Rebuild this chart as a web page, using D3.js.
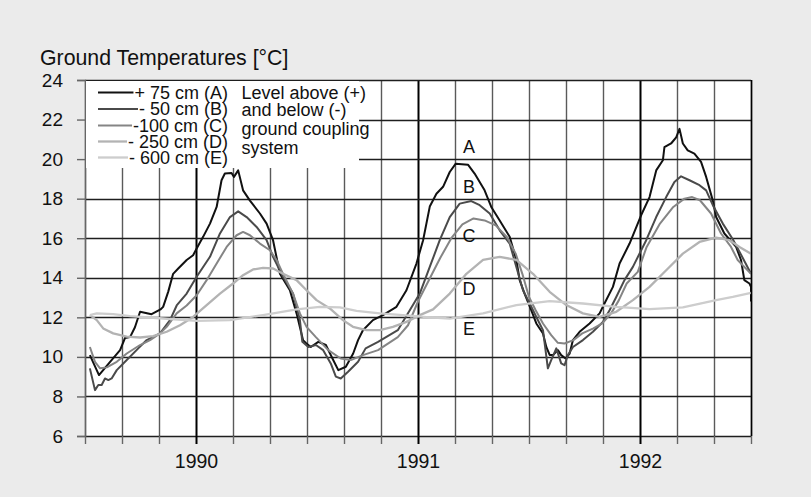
<!DOCTYPE html>
<html><head><meta charset="utf-8">
<script src="https://cdn.jsdelivr.net/npm/d3@7"></script>
<style>
html,body{margin:0;padding:0;background:#ebebeb;}
svg{display:block;font-family:"Liberation Sans",Arial,sans-serif;}
</style></head>
<body>
<script>
// ---------- data ----------
const yTicks = [6, 8, 10, 12, 14, 16, 18, 20, 22, 24];
const xTicks = [1989.5, 1989.6667, 1989.8333, 1990, 1990.1667, 1990.3333, 1990.5, 1990.6667, 1990.8333,
                1991, 1991.1667, 1991.3333, 1991.5, 1991.6667, 1991.8333, 1992, 1992.1667, 1992.3333, 1992.5];
const yearLabels = [1990, 1991, 1992];
const seriesNames = ["+ 75 cm (A)", "- 50 cm (B)", "-100 cm (C)", "- 250 cm (D)", "- 600 cm (E)"];
const seriesLetters = ["A", "B", "C", "D", "E"];
const letterYear = 1991.23;
const letterTemps = [20.63, 18.6, 16.16, 13.47, 11.45];
const noteLines = ["Level above (+)", "and below (-)", "ground coupling", "system"];

// +75 cm (A): [decimal year, °C]
const depthA = [
 [1989.522,10.09],[1989.563,9.08],[1989.613,9.75],[1989.658,10.34],[1989.680,10.95],[1989.703,11.0],
 [1989.725,11.5],[1989.748,12.28],[1989.800,12.16],[1989.840,12.4],[1989.852,12.53],[1989.875,13.3],
 [1989.897,14.2],[1989.920,14.47],[1989.958,14.9],[1989.987,15.14],[1990.003,15.48],[1990.032,16.07],
 [1990.063,16.74],[1990.093,17.58],[1990.115,18.93],[1990.130,19.27],[1990.160,19.3],[1990.171,19.1],
 [1990.190,19.43],[1990.212,18.42],[1990.243,17.9],[1990.288,17.25],[1990.318,16.74],[1990.347,15.9],
 [1990.378,14.2],[1990.423,13.37],[1990.453,12.2],[1990.482,10.85],[1990.495,10.7],[1990.517,10.5],
 [1990.551,10.76],[1990.585,10.6],[1990.618,9.84],[1990.641,9.33],[1990.675,9.5],[1990.708,10.17],
 [1990.730,10.85],[1990.752,11.35],[1990.797,11.86],[1990.842,12.11],[1990.903,12.53],[1990.948,13.37],
 [1990.993,14.72],[1991.023,15.9],[1991.053,17.6],[1991.083,18.25],[1991.113,18.6],[1991.143,19.35],
 [1991.170,19.77],[1991.225,19.72],[1991.255,19.27],[1991.300,18.42],[1991.330,17.58],[1991.368,16.9],
 [1991.413,16.07],[1991.443,14.9],[1991.458,13.88],[1991.480,13.2],[1991.510,12.36],[1991.533,11.69],
 [1991.563,11.18],[1991.578,10.5],[1991.593,10.1],[1991.608,10.09],[1991.630,10.34],[1991.645,10.09],
 [1991.665,9.92],[1991.683,10.17],[1991.698,10.85],[1991.728,11.27],[1991.773,11.69],[1991.818,12.2],
 [1991.840,12.7],[1991.878,13.54],[1991.908,14.72],[1991.953,15.73],[1992.005,17.16],[1992.043,18.08],
 [1992.073,19.43],[1992.103,19.94],[1992.110,20.6],[1992.140,20.79],[1992.163,21.1],[1992.178,21.53],
 [1992.193,20.79],[1992.215,20.44],[1992.245,20.28],[1992.275,19.86],[1992.298,19.1],[1992.328,17.9],
 [1992.343,17.07],[1992.380,16.24],[1992.433,15.56],[1992.455,14.9],[1992.470,13.88],[1992.493,13.71],
 [1992.5,13.54],[1992.5,12.8]
];
// -50 cm (B)
const depthB = [
 [1989.522,9.42],[1989.545,8.32],[1989.560,8.58],[1989.575,8.58],[1989.590,8.91],[1989.605,8.83],
 [1989.620,8.91],[1989.643,9.33],[1989.688,9.84],[1989.740,10.43],[1989.778,10.85],[1989.838,11.19],
 [1989.883,11.86],[1989.913,12.6],[1989.958,13.2],[1990.003,14.05],[1990.063,15.06],[1990.108,16.24],
 [1990.153,17.07],[1990.190,17.36],[1990.228,17.07],[1990.273,16.57],[1990.318,15.9],[1990.347,15.06],
 [1990.392,14.05],[1990.437,13.2],[1990.468,11.86],[1990.479,10.76],[1990.506,10.5],[1990.540,10.6],
 [1990.573,10.34],[1990.607,9.67],[1990.630,9.0],[1990.652,8.91],[1990.685,9.25],[1990.730,9.75],
 [1990.764,10.43],[1990.820,10.76],[1990.909,11.35],[1990.963,12.36],[1991.008,13.2],[1991.053,14.55],
 [1991.098,15.9],[1991.143,17.07],[1991.188,17.75],[1991.240,17.88],[1991.278,17.67],[1991.323,17.25],
 [1991.368,16.4],[1991.413,15.73],[1991.443,14.55],[1991.473,13.37],[1991.503,12.7],[1991.533,12.02],
 [1991.563,11.35],[1991.585,9.42],[1991.600,9.84],[1991.623,10.43],[1991.645,9.67],[1991.660,9.58],
 [1991.675,10.09],[1991.698,10.5],[1991.743,10.85],[1991.788,11.27],[1991.833,11.77],[1991.863,12.36],
 [1991.893,13.03],[1991.930,13.88],[1991.968,14.55],[1992.028,15.9],[1992.073,17.07],[1992.118,18.08],
 [1992.155,18.84],[1992.185,19.13],[1992.223,18.93],[1992.268,18.68],[1992.298,18.42],[1992.328,17.67],
 [1992.373,16.74],[1992.418,15.95],[1992.463,15.0],[1992.5,14.2]
];
// -100 cm (C)
const depthC = [
 [1989.522,10.5],[1989.545,9.75],[1989.568,9.42],[1989.598,9.47],[1989.643,9.75],[1989.688,10.17],
 [1989.748,10.6],[1989.793,10.85],[1989.838,11.19],[1989.868,11.52],[1989.913,12.2],[1989.958,12.6],
 [1990.003,13.12],[1990.048,13.88],[1990.093,14.72],[1990.138,15.56],[1990.183,16.15],[1990.212,16.32],
 [1990.243,16.15],[1990.288,15.73],[1990.333,15.39],[1990.363,14.9],[1990.392,14.2],[1990.437,13.2],
 [1990.468,12.2],[1990.498,11.52],[1990.540,11.0],[1990.596,10.34],[1990.652,9.92],[1990.697,9.84],
 [1990.752,10.09],[1990.820,10.34],[1990.909,11.0],[1990.955,11.6],[1991.0,12.8],[1991.05,13.9],
 [1991.1,15.0],[1991.15,16.0],[1991.2,16.7],[1991.25,17.0],[1991.3,16.9],[1991.35,16.65],
 [1991.4,16.07],[1991.44,15.22],[1991.47,14.2],[1991.5,13.03],[1991.53,12.36],[1991.563,11.69],
 [1991.6,11.1],[1991.63,10.71],[1991.66,10.68],[1991.7,10.85],[1991.74,11.19],[1991.79,11.44],
 [1991.83,11.69],[1991.87,12.2],[1991.905,12.87],[1991.94,13.71],[1991.99,14.3],[1992.03,15.56],
 [1992.09,16.74],[1992.15,17.58],[1992.2,18.0],[1992.235,18.08],[1992.27,17.92],[1992.32,17.25],
 [1992.365,16.24],[1992.41,15.56],[1992.44,14.9],[1992.5,14.2]
];
// -250 cm (D)
const depthD = [
 [1989.522,12.11],[1989.553,11.86],[1989.582,11.44],[1989.627,11.19],[1989.688,11.02],[1989.748,10.98],
 [1989.807,11.05],[1989.868,11.27],[1989.928,11.6],[1989.987,12.02],[1990.048,12.62],[1990.108,13.2],
 [1990.167,13.71],[1990.212,14.13],[1990.257,14.42],[1990.302,14.5],[1990.347,14.47],[1990.392,14.2],
 [1990.453,13.88],[1990.498,13.37],[1990.543,12.87],[1990.603,12.45],[1990.662,11.86],[1990.707,11.52],
 [1990.768,11.35],[1990.828,11.35],[1990.887,11.52],[1990.948,11.77],[1991.008,12.11],[1991.068,12.4],
 [1991.143,13.2],[1991.218,14.2],[1991.293,14.9],[1991.368,15.06],[1991.443,14.9],[1991.518,14.2],
 [1991.593,13.29],[1991.668,12.62],[1991.743,12.2],[1991.818,12.02],[1991.893,12.28],[1991.968,12.87],
 [1992.043,13.54],[1992.118,14.38],[1992.193,15.22],[1992.268,15.81],[1992.343,16.03],[1992.403,15.9],
 [1992.448,15.56],[1992.5,15.22]
];
// -600 cm (E)
const depthE = [
 [1989.522,12.11],[1989.553,12.2],[1989.627,12.16],[1989.703,12.06],[1989.852,11.94],[1990.003,11.82],
 [1990.153,11.86],[1990.302,12.11],[1990.453,12.4],[1990.558,12.53],[1990.648,12.5],[1990.723,12.33],
 [1990.828,12.2],[1990.932,12.11],[1991.053,12.0],[1991.143,11.94],[1991.293,12.2],[1991.443,12.62],
 [1991.593,12.82],[1991.743,12.7],[1991.893,12.53],[1992.043,12.41],[1992.193,12.5],[1992.343,12.87],
 [1992.418,13.03],[1992.5,13.24]
];

// ---------- drawing ----------
const W = 811, H = 497;
const allSeries = [depthA, depthB, depthC, depthD, depthE];
const colors = ["#111111", "#4a4a4a", "#858585", "#b3b3b3", "#cdcdcd"];
const widths = [2, 2, 2, 2.3, 2.3];

const svg = d3.select("body").append("svg").attr("width", W).attr("height", H);
svg.append("rect").attr("width", W).attr("height", H).attr("fill", "#ebebeb");

const x = d3.scaleLinear().domain([1989.5, 1992.5]).range([85, 751]);
const y = d3.scaleLinear().domain([6, 24]).range([436, 80]);

// plot background
svg.append("rect").attr("x", x.range()[0]).attr("y", y(24))
  .attr("width", x.range()[1] - x.range()[0]).attr("height", y(6) - y(24)).attr("fill", "#fff");

const isYear = d => Math.abs(d - Math.round(d)) < 1e-3 && d > 1989.6 && d < 1992.4;

// vertical grid
svg.append("g").selectAll("line").data(xTicks).join("line")
  .attr("x1", d => Math.round(x(d)) + 0.5).attr("x2", d => Math.round(x(d)) + 0.5)
  .attr("y1", y(24)).attr("y2", y(6))
  .attr("stroke", d => isYear(d) ? "#000" : (d > 1992.4 ? "#000" : "#5a5a5a"))
  .attr("stroke-width", d => isYear(d) ? 2 : 1.4);

// horizontal grid
svg.append("g").selectAll("line").data(yTicks).join("line")
  .attr("x1", x.range()[0]).attr("x2", x.range()[1])
  .attr("y1", d => Math.round(y(d)) + 0.5).attr("y2", d => Math.round(y(d)) + 0.5)
  .attr("stroke", "#1e1e1e").attr("stroke-width", 1.3);

// y axis
const yAxis = svg.append("g").attr("transform", `translate(${x.range()[0]},0)`)
  .call(d3.axisLeft(y).tickValues(yTicks).tickSize(8).tickPadding(14).tickFormat(d3.format("d")));
yAxis.select(".domain").attr("stroke", "#666").attr("stroke-width", 1.4);
yAxis.selectAll(".tick line").attr("stroke", "#666").attr("stroke-width", 1.4);
yAxis.selectAll(".tick text").attr("font-size", 19).attr("fill", "#111")
  .attr("font-family", "Liberation Sans, Arial, sans-serif");

// x axis
const xAxis = svg.append("g").attr("transform", `translate(0,${y(6)})`)
  .call(d3.axisBottom(x).tickValues(xTicks).tickSize(8).tickPadding(10)
    .tickFormat(d => isYear(d) ? String(Math.round(d)) : ""));
xAxis.select(".domain").remove();
xAxis.selectAll(".tick line").attr("stroke", d => isYear(d) ? "#000" : "#666")
  .attr("stroke-width", d => isYear(d) ? 2 : 1.4);
xAxis.selectAll(".tick text").attr("font-size", 19.5).attr("fill", "#111")
  .attr("font-family", "Liberation Sans, Arial, sans-serif");

// title
svg.append("text").attr("x", 40).attr("y", 65).attr("font-size", 21.3).attr("fill", "#111")
  .text("Ground Temperatures [°C]");

// legend box
svg.append("rect").attr("x", x.range()[0] + 1).attr("y", y(24) + 1).attr("width", 273).attr("height", 87)
  .attr("fill", "#fff");

// series
const line = d3.line().x(d => x(d[0])).y(d => y(d[1]));
svg.append("g").selectAll("path").data(allSeries).join("path")
  .attr("d", line).attr("fill", "none")
  .attr("stroke", (d, i) => colors[i]).attr("stroke-width", (d, i) => widths[i])
  .attr("stroke-linejoin", "round");

// right border on top
svg.append("line").attr("x1", 751.5).attr("x2", 751.5).attr("y1", y(24)).attr("y2", y(6))
  .attr("stroke", "#000").attr("stroke-width", 1.4);

// legend entries
const leg = svg.append("g").attr("font-size", 18).attr("fill", "#111");
const legBase = [98.5, 115, 131.5, 147.5, 163.5];
seriesNames.forEach((name, i) => {
  const by = legBase[i];
  const t = leg.append("text").attr("x", 228).attr("y", by).attr("text-anchor", "end").text(name);
  const w = t.node().getComputedTextLength();
  leg.append("line").attr("x1", 98).attr("x2", 228 - w - 1)
    .attr("y1", by - 6).attr("y2", by - 6)
    .attr("stroke", colors[i]).attr("stroke-width", widths[i]);
});
const noteBase = [98.5, 116, 135, 154];
noteLines.forEach((s, i) => {
  leg.append("text").attr("x", 241.5).attr("y", noteBase[i]).text(s);
});

// letter labels
svg.append("g").selectAll("text").data(seriesLetters).join("text")
  .attr("x", x(letterYear)).attr("y", (d, i) => y(letterTemps[i]))
  .attr("dy", "0.36em").attr("text-anchor", "middle").attr("font-size", 18).attr("fill", "#111")
  .text(d => d);
</script>
</body></html>
